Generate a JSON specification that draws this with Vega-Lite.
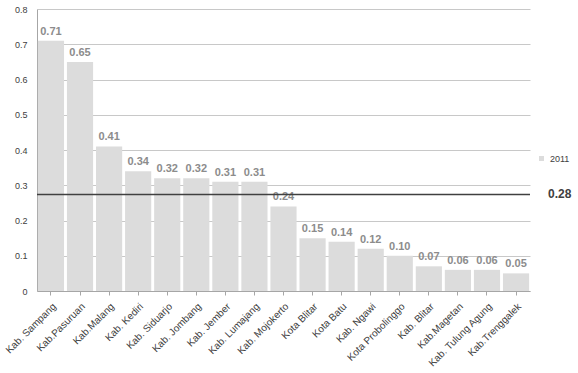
{
  "$schema": "https://vega.github.io/schema/vega-lite/v6.json",
  "width": 493,
  "height": 282,
  "autosize": {"type": "none"},
  "padding": {"left": 37, "top": 9, "right": 48, "bottom": 82},
  "background": "white",
  "config": {
    "font": "Liberation Sans",
    "view": {"stroke": null},
    "axis": {"labelFont": "Liberation Sans", "labelColor": "#404040", "labelFontSize": 9, "domainColor": "#a6a6a6", "tickColor": "#a6a6a6", "gridColor": "#c8c8c8"}
  },
  "data": {
    "values": [
      {"region": "Kab. Sampang", "value": 0.71, "year": "2011"},
      {"region": "Kab.Pasuruan", "value": 0.65, "year": "2011"},
      {"region": "Kab.Malang", "value": 0.41, "year": "2011"},
      {"region": "Kab. Kediri", "value": 0.34, "year": "2011"},
      {"region": "Kab. Siduarjo", "value": 0.32, "year": "2011"},
      {"region": "Kab. Jombang", "value": 0.32, "year": "2011"},
      {"region": "Kab. Jember", "value": 0.31, "year": "2011"},
      {"region": "Kab. Lumajang", "value": 0.31, "year": "2011"},
      {"region": "Kab. Mojokerto", "value": 0.24, "year": "2011"},
      {"region": "Kota Blitar", "value": 0.15, "year": "2011"},
      {"region": "Kota Batu", "value": 0.14, "year": "2011"},
      {"region": "Kab. Ngawi", "value": 0.12, "year": "2011"},
      {"region": "Kota Probolinggo", "value": 0.10, "year": "2011"},
      {"region": "Kab. Blitar", "value": 0.07, "year": "2011"},
      {"region": "Kab.Magetan", "value": 0.06, "year": "2011"},
      {"region": "Kab. Tulung Agung", "value": 0.06, "year": "2011"},
      {"region": "Kab.Trenggalek", "value": 0.05, "year": "2011"}
    ]
  },
  "layer": [
    {
      "mark": {"type": "bar", "color": "#dcdcdc"},
      "encoding": {
        "x": {"field": "region", "type": "nominal",
              "sort": ["Kab. Sampang", "Kab.Pasuruan", "Kab.Malang", "Kab. Kediri", "Kab. Siduarjo", "Kab. Jombang", "Kab. Jember", "Kab. Lumajang", "Kab. Mojokerto", "Kota Blitar", "Kota Batu", "Kab. Ngawi", "Kota Probolinggo", "Kab. Blitar", "Kab.Magetan", "Kab. Tulung Agung", "Kab.Trenggalek"],
              "scale": {"paddingInner": 0.1, "paddingOuter": 0.03},
              "axis": {"title": null, "labelAngle": -45, "labelAlign": "right", "labelBaseline": "top", "labelPadding": 6, "labelFontSize": 10, "tickSize": 4, "domain": true}},
        "y": {"field": "value", "type": "quantitative", "scale": {"domain": [0, 0.8], "nice": false},
              "axis": {"title": null, "tickCount": 8, "ticks": false, "labelPadding": 10, "domain": true,
                       "labelExpr": "datum.value == 0 ? '0' : format(datum.value, '.1f')"}},
        "color": {"field": "year", "type": "nominal", "scale": {"range": ["#dcdcdc"]},
                  "legend": {"title": null, "orient": "none", "legendX": 500, "legendY": 145, "symbolType": "square", "symbolSize": 25, "labelFontSize": 9, "labelColor": "#404040", "labelFont": "Liberation Sans"}}
      }
    },
    {
      "mark": {"type": "text", "dy": -9, "fontSize": 11, "fontWeight": "bold", "color": "#8c8c8c"},
      "encoding": {
        "x": {"field": "region", "type": "nominal",
              "sort": ["Kab. Sampang", "Kab.Pasuruan", "Kab.Malang", "Kab. Kediri", "Kab. Siduarjo", "Kab. Jombang", "Kab. Jember", "Kab. Lumajang", "Kab. Mojokerto", "Kota Blitar", "Kota Batu", "Kab. Ngawi", "Kota Probolinggo", "Kab. Blitar", "Kab.Magetan", "Kab. Tulung Agung", "Kab.Trenggalek"]},
        "y": {"field": "value", "type": "quantitative"},
        "text": {"field": "value", "type": "quantitative", "format": ".2f"}
      }
    },
    {
      "data": {"values": [{"avg": 0.274}]},
      "mark": {"type": "rule", "color": "#404040", "strokeWidth": 1.5},
      "encoding": {"y": {"field": "avg", "type": "quantitative"}}
    },
    {
      "data": {"values": [{"avg": 0.274, "label": "0.28", "region": "Kab.Trenggalek"}]},
      "mark": {"type": "text", "align": "left", "dx": 32, "fontSize": 12, "fontWeight": "bold", "color": "#404040"},
      "encoding": {
        "x": {"field": "region", "type": "nominal",
              "sort": ["Kab. Sampang", "Kab.Pasuruan", "Kab.Malang", "Kab. Kediri", "Kab. Siduarjo", "Kab. Jombang", "Kab. Jember", "Kab. Lumajang", "Kab. Mojokerto", "Kota Blitar", "Kota Batu", "Kab. Ngawi", "Kota Probolinggo", "Kab. Blitar", "Kab.Magetan", "Kab. Tulung Agung", "Kab.Trenggalek"]},
        "y": {"field": "avg", "type": "quantitative"},
        "text": {"field": "label"}
      }
    }
  ]
}
